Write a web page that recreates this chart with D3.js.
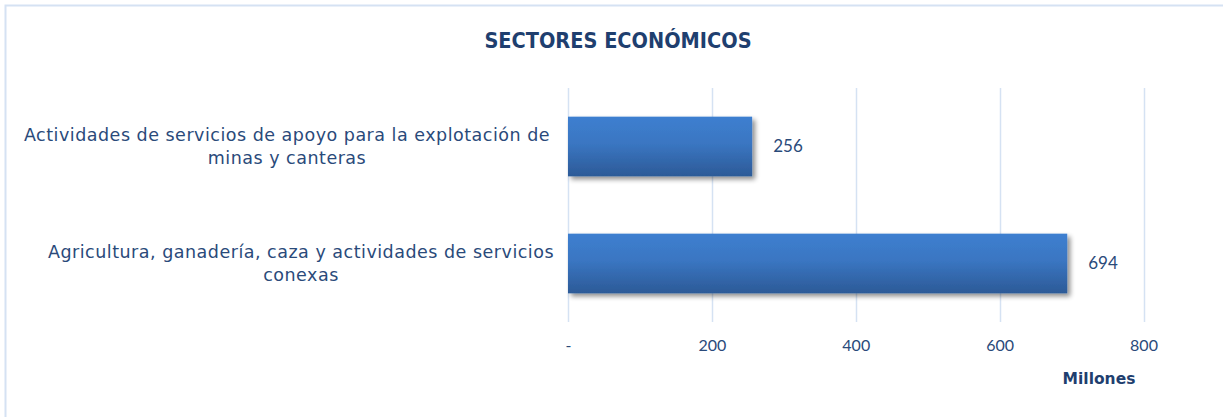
<!DOCTYPE html>
<html>
<head>
<meta charset="utf-8">
<script src="https://cdn.jsdelivr.net/npm/d3@7"></script>
<style>
  html, body { margin: 0; padding: 0; background: #fff; }
  svg { display: block; }
</style>
</head>
<body>
<svg id="chart" width="1223" height="417"></svg>
<script>
// Sector names (each split into display lines) and values in millions
const categories = [
  ["Actividades de servicios de apoyo para la explotación de", "minas y canteras"],
  ["Agricultura, ganadería, caza y actividades de servicios", "conexas"]
];
const values = [256, 694];
const tickValues = [0, 200, 400, 600, 800];
const tickLabels = ["-", "200", "400", "600", "800"];
const title = "SECTORES ECONÓMICOS";
const axisTitle = "Millones";

const svg = d3.select("#chart");
const W = 1223, H = 417;
const textFont = "'DejaVu Sans', sans-serif";
const numFont = "'Lato', 'Open Sans', sans-serif";
const textColor = "#2a4a7a";
const titleColor = "#1f3f6f";

// Outer frame
svg.append("rect")
  .attr("x", 5.5).attr("y", 5.5)
  .attr("width", W + 10).attr("height", H + 10)
  .attr("fill", "#fff")
  .attr("stroke", "#d5e2f3").attr("stroke-width", 2);

const plot = { left: 568, right: 1143.5, top: 88, bottom: 322 };

const x = d3.scaleLinear().domain([0, 800]).range([plot.left, plot.right]);
const y = d3.scaleBand()
  .domain(d3.range(categories.length))
  .range([plot.top, plot.bottom])
  .paddingInner(0.49).paddingOuter(0.245);

// Defs: gradient and shadow
const defs = svg.append("defs");
const grad = defs.append("linearGradient").attr("id", "barGrad")
  .attr("x1", 0).attr("y1", 0).attr("x2", 0).attr("y2", 1);
grad.append("stop").attr("offset", "0%").attr("stop-color", "#3d7fd0");
grad.append("stop").attr("offset", "45%").attr("stop-color", "#3a76c2");
grad.append("stop").attr("offset", "100%").attr("stop-color", "#2c5a97");
const shadow = defs.append("filter").attr("id", "shadow")
  .attr("x", "-10%").attr("y", "-20%").attr("width", "130%").attr("height", "150%");
shadow.append("feGaussianBlur").attr("in", "SourceAlpha").attr("stdDeviation", 2.5).attr("result", "b");
shadow.append("feOffset").attr("in", "b").attr("dx", 3).attr("dy", 3).attr("result", "o");
shadow.append("feComponentTransfer").attr("in", "o").attr("result", "s")
  .append("feFuncA").attr("type", "linear").attr("slope", 0.45);
const merge = shadow.append("feMerge");
merge.append("feMergeNode").attr("in", "s");
merge.append("feMergeNode").attr("in", "SourceGraphic");

// Vertical gridlines
svg.append("g").selectAll("line")
  .data(tickValues)
  .join("line")
  .attr("x1", d => Math.round(x(d)) + 0.5).attr("x2", d => Math.round(x(d)) + 0.5)
  .attr("y1", plot.top).attr("y2", plot.bottom)
  .attr("stroke", "#d5e2f3").attr("stroke-width", 1.5);

// Bottom axis labels
const axis = d3.axisBottom(x).tickValues(tickValues)
  .tickFormat((d, i) => tickLabels[i]).tickSize(0).tickPadding(18);
const gx = svg.append("g").attr("transform", `translate(0,${plot.bottom})`).call(axis);
gx.select(".domain").remove();
gx.selectAll("text")
  .attr("fill", textColor)
  .style("font-family", numFont).style("font-size", "16px");

// Bars
svg.append("g").selectAll("rect")
  .data(values)
  .join("rect")
  .attr("x", x(0))
  .attr("y", (d, i) => y(i))
  .attr("width", d => x(d) - x(0))
  .attr("height", y.bandwidth())
  .attr("fill", "url(#barGrad)")
  .attr("filter", "url(#shadow)");

// Value labels
svg.append("g").selectAll("text")
  .data(values)
  .join("text")
  .attr("x", d => x(d) + 21)
  .attr("y", (d, i) => y(i) + y.bandwidth() / 2)
  .attr("dy", "0.35em")
  .attr("fill", textColor)
  .style("font-family", numFont).style("font-size", "17px")
  .text(d => d);

// Category labels (two lines, centred)
const catG = svg.append("g");
categories.forEach((lines, i) => {
  const cy = y(i) + y.bandwidth() / 2;
  const t = catG.append("text")
    .attr("text-anchor", "middle")
    .attr("fill", textColor)
    .style("font-family", textFont).style("font-size", "17.5px")
    .style("letter-spacing", "0.5px");
  lines.forEach((ln, j) => {
    t.append("tspan")
      .attr("x", i === 0 ? 287 : 301)
      .attr("y", cy + (j - (lines.length - 1) / 2) * 23)
      .attr("dy", "0.35em")
      .text(ln);
  });
});

// Chart title
svg.append("text")
  .attr("x", 618).attr("y", 40).attr("dy", "0.35em")
  .attr("text-anchor", "middle")
  .attr("fill", titleColor)
  .style("font-family", "'DejaVu Sans Condensed', 'DejaVu Sans', sans-serif")
  .style("font-size", "21.5px").style("font-weight", "bold")
  .text(title);

// Axis title
svg.append("text")
  .attr("x", 1099).attr("y", 379).attr("dy", "0.35em")
  .attr("text-anchor", "middle")
  .attr("fill", titleColor)
  .style("font-family", textFont).style("font-size", "15.5px").style("font-weight", "bold")
  .text(axisTitle);
</script>
</body>
</html>
